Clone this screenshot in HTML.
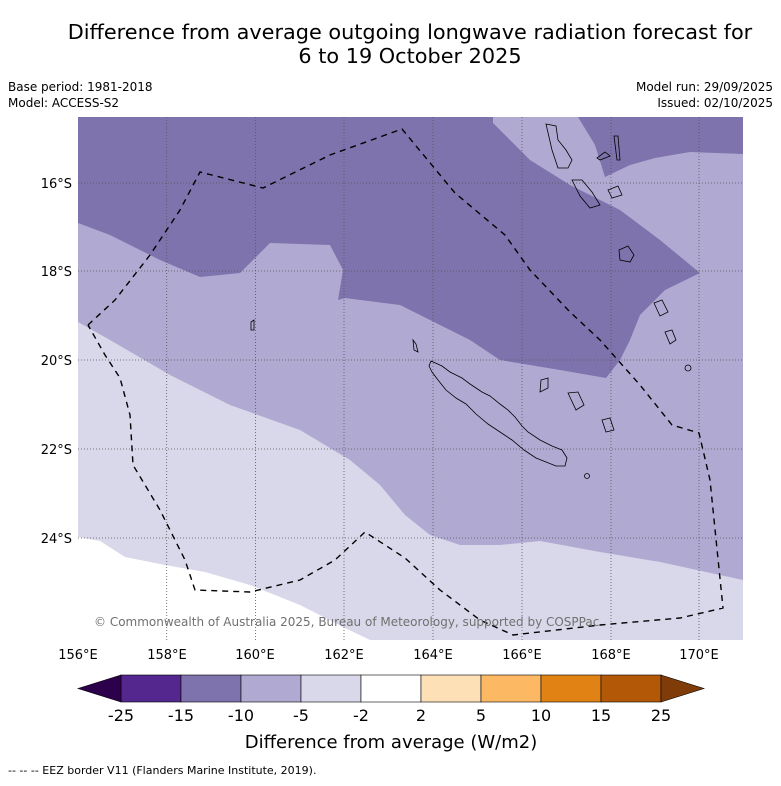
<!DOCTYPE html>
<html><head><meta charset="utf-8"><style>
body{margin:0;background:#fff;font-family:"Liberation Sans","DejaVu Sans",sans-serif}
</style></head><body>
<svg width="781" height="781" viewBox="0 0 781 781" xmlns="http://www.w3.org/2000/svg" font-family="DejaVu Sans, Liberation Sans, sans-serif">
<text x="410" y="39" font-size="20.8" text-anchor="middle">Difference from average outgoing longwave radiation forecast for</text>
<text x="410" y="63" font-size="20.8" text-anchor="middle">6 to 19 October 2025</text>
<text x="8" y="91" font-size="12">Base period: 1981-2018</text>
<text x="8" y="107" font-size="12">Model: ACCESS-S2</text>
<text x="773" y="91" font-size="12" text-anchor="end">Model run: 29/09/2025</text>
<text x="773" y="107" font-size="12" text-anchor="end">Issued: 02/10/2025</text>
<g>
<clipPath id="c"><rect x="78" y="117" width="665" height="523"/></clipPath>
<g clip-path="url(#c)">
<rect x="78" y="117" width="665" height="523" fill="#fff"/>
<polygon fill="#d8d8ea" points="78,117 743,117 743,640 370,640 345,628 300,605 250,585 205,572 165,565 125,557 100,541 78,537"/>
<polygon fill="#b0aad2" points="78,117 743,117 743,580 660,562 600,552 540,541 500,545 460,545 430,535 405,515 380,485 350,460 300,430 230,405 170,375 110,340 78,322"/>
<polygon fill="#7e73ac" points="78,117 493,117 493,123 530,160 570,185 620,210 660,240 700,273 665,290 640,315 630,340 620,360 606,378 560,370 500,360 470,340 430,320 400,305 345,298 338,300 343,270 330,245 270,243 240,273 200,277 160,260 110,235 78,223"/>
<polygon fill="#7e73ac" points="578,117 743,117 743,154 690,152 655,158 630,165 605,177 595,145"/>
<g stroke="#555" stroke-width="0.8" stroke-dasharray="1,2">
<line x1="166.7" y1="117" x2="166.7" y2="640"/><line x1="255.4" y1="117" x2="255.4" y2="640"/><line x1="344" y1="117" x2="344" y2="640"/><line x1="433" y1="117" x2="433" y2="640"/><line x1="522" y1="117" x2="522" y2="640"/><line x1="611" y1="117" x2="611" y2="640"/><line x1="699" y1="117" x2="699" y2="640"/>
<line x1="78" y1="183" x2="743" y2="183"/><line x1="78" y1="271" x2="743" y2="271"/><line x1="78" y1="360" x2="743" y2="360"/><line x1="78" y1="449" x2="743" y2="449"/><line x1="78" y1="538" x2="743" y2="538"/>
</g>
<g fill="none" stroke="#000" stroke-width="0.8">
<polygon points="431,361 442,366 450,372 462,378 470,384 482,392 490,396 500,404 508,410 515,417 522,426 528,432 540,440 552,446 562,450 567,458 565,466 556,466 546,462 536,458 524,450 512,440 500,432 488,424 476,414 466,404 456,398 446,390 438,380 432,372 429,366"/>
<polygon points="546,124 556,126 558,140 566,150 572,160 568,168 558,168 552,150"/>
<polygon points="572,180 582,180 592,192 600,205 590,208 580,196"/>
<polygon points="614,136 618,136 620,160 617,160"/>
<polygon points="597,158 605,152 610,156 600,160"/>
<polygon points="608,190 618,186 622,195 612,198"/>
<polygon points="619,250 628,246 634,255 630,262 620,260"/>
<polygon points="654,303 662,300 668,312 660,316"/>
<polygon points="665,332 672,330 676,340 670,344"/>
<polygon points="568,393 578,392 584,405 576,410"/>
<polygon points="541,380 548,378 548,388 540,392"/>
<polygon points="602,420 610,418 614,430 606,432"/>
<circle cx="688" cy="368" r="3"/><circle cx="587" cy="476" r="2.5"/>
<polygon points="251,322 254,320 254,330 251,330"/>
<polygon points="413,340 416,344 418,352 414,350"/>
</g>
<polyline fill="none" stroke="#000" stroke-width="1.4" stroke-dasharray="6,5" points="88,325 115,300 150,255 180,210 200,172 263,188 330,155 402,129 455,193 505,235 530,270 570,312 600,340 640,385 672,425 699,433 710,480 723,608 680,618 600,625 513,635 480,620 440,590 405,558 365,532 335,560 300,580 250,592 195,590 185,560 160,510 133,465 130,415 120,378 105,355 88,325"/>
<text x="94" y="626" font-size="12" fill="#707070">© Commonwealth of Australia 2025, Bureau of Meteorology, supported by COSPPac</text>
</g>
</g>
<g font-size="13" text-anchor="middle">
<text x="78" y="659">156°E</text><text x="167" y="659">158°E</text><text x="255" y="659">160°E</text><text x="344" y="659">162°E</text><text x="433" y="659">164°E</text><text x="522" y="659">166°E</text><text x="611" y="659">168°E</text><text x="699" y="659">170°E</text>
</g>
<g font-size="13" text-anchor="end">
<text x="72" y="188">16°S</text><text x="72" y="276">18°S</text><text x="72" y="365">20°S</text><text x="72" y="454">22°S</text><text x="72" y="543">24°S</text>
</g>
<g id="cbar"></g>
<text x="391" y="748" font-size="18" text-anchor="middle">Difference from average (W/m2)</text>
<text x="8" y="774" font-size="11">--  --  -- EEZ border V11 (Flanders Marine Institute, 2019).</text>
</svg>
<script>
const levels=["-25","-15","-10","-5","-2","2","5","10","15","25"];
const colors=["#54278f","#7e73ac","#b0aad2","#d8d8ea","#ffffff","#fee0b6","#fdb863","#e08214","#b35806"];
const extColors=["#2d004b","#7f3b08"];
const g=document.getElementById('cbar');const NS="http://www.w3.org/2000/svg";
const x0=121,w=60,y0=675,h=27;
function mk(t,a){const e=document.createElementNS(NS,t);for(const k in a)e.setAttribute(k,a[k]);g.appendChild(e);return e;}
colors.forEach((c,i)=>{const r=mk('rect',{x:x0+i*w,y:y0,width:w,height:h,fill:c,stroke:'#000','stroke-width':0.6});

});
const xe=x0+colors.length*w;
const l=mk('polygon',{points:`${x0},${y0} 78,${y0+h/2} ${x0},${y0+h}`,fill:extColors[0],stroke:'#000','stroke-width':0.6});


const r2=mk('polygon',{points:`${xe},${y0} ${xe+43},${y0+h/2} ${xe},${y0+h}`,fill:extColors[1],stroke:'#000','stroke-width':0.6});


levels.forEach((t,i)=>{const e=mk('text',{x:x0+i*w,y:721,'font-size':16,'text-anchor':'middle'});e.textContent=t;

});
</script>
</body></html>
